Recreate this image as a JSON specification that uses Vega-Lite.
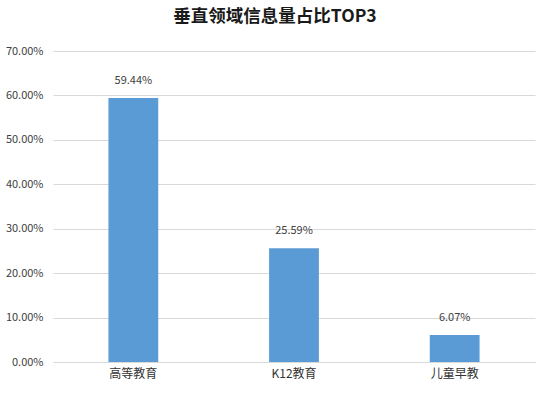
{
  "$schema": "https://vega.github.io/schema/vega-lite/v6.json",
  "autosize": "none",
  "width": 482,
  "height": 311,
  "padding": {"left": 53, "top": 51, "right": 15, "bottom": 33},
  "background": "white",
  "title": {
    "text": "垂直领域信息量占比TOP3",
    "font": "Noto Sans CJK SC",
    "fontSize": 17.5,
    "fontWeight": "bold",
    "color": "#1a1a1a",
    "anchor": "middle",
    "dx": -19,
    "offset": 20
  },
  "data": {
    "values": [
      {"category": "高等教育", "share": 0.5944},
      {"category": "K12教育", "share": 0.2559},
      {"category": "儿童早教", "share": 0.0607}
    ]
  },
  "encoding": {
    "x": {
      "field": "category",
      "type": "nominal",
      "sort": null,
      "scale": {"paddingInner": 0.69, "paddingOuter": 0.345},
      "axis": {
        "title": null,
        "labelAngle": 0,
        "labelFont": "Noto Sans CJK SC",
        "labelFontSize": 12,
        "labelColor": "#333333",
        "labelPadding": 6,
        "ticks": false,
        "domainColor": "#d9d9d9",
        "grid": false
      }
    },
    "y": {
      "field": "share",
      "type": "quantitative",
      "scale": {"domain": [0, 0.7]},
      "axis": {
        "title": null,
        "format": ".2%",
        "values": [0, 0.1, 0.2, 0.3, 0.4, 0.5, 0.6, 0.7],
        "labelFont": "Noto Sans CJK SC",
        "labelFontSize": 11,
        "labelColor": "#404040",
        "labelPadding": 10,
        "ticks": false,
        "domain": false,
        "gridColor": "#d9d9d9"
      }
    }
  },
  "layer": [
    {"mark": {"type": "bar", "color": "#5B9BD5"}},
    {
      "mark": {
        "type": "text",
        "dy": -12,
        "baseline": "bottom",
        "font": "Noto Sans CJK SC",
        "fontSize": 11,
        "color": "#404040"
      },
      "encoding": {"text": {"field": "share", "type": "quantitative", "format": ".2%"}}
    }
  ],
  "config": {"view": {"stroke": null}}
}
